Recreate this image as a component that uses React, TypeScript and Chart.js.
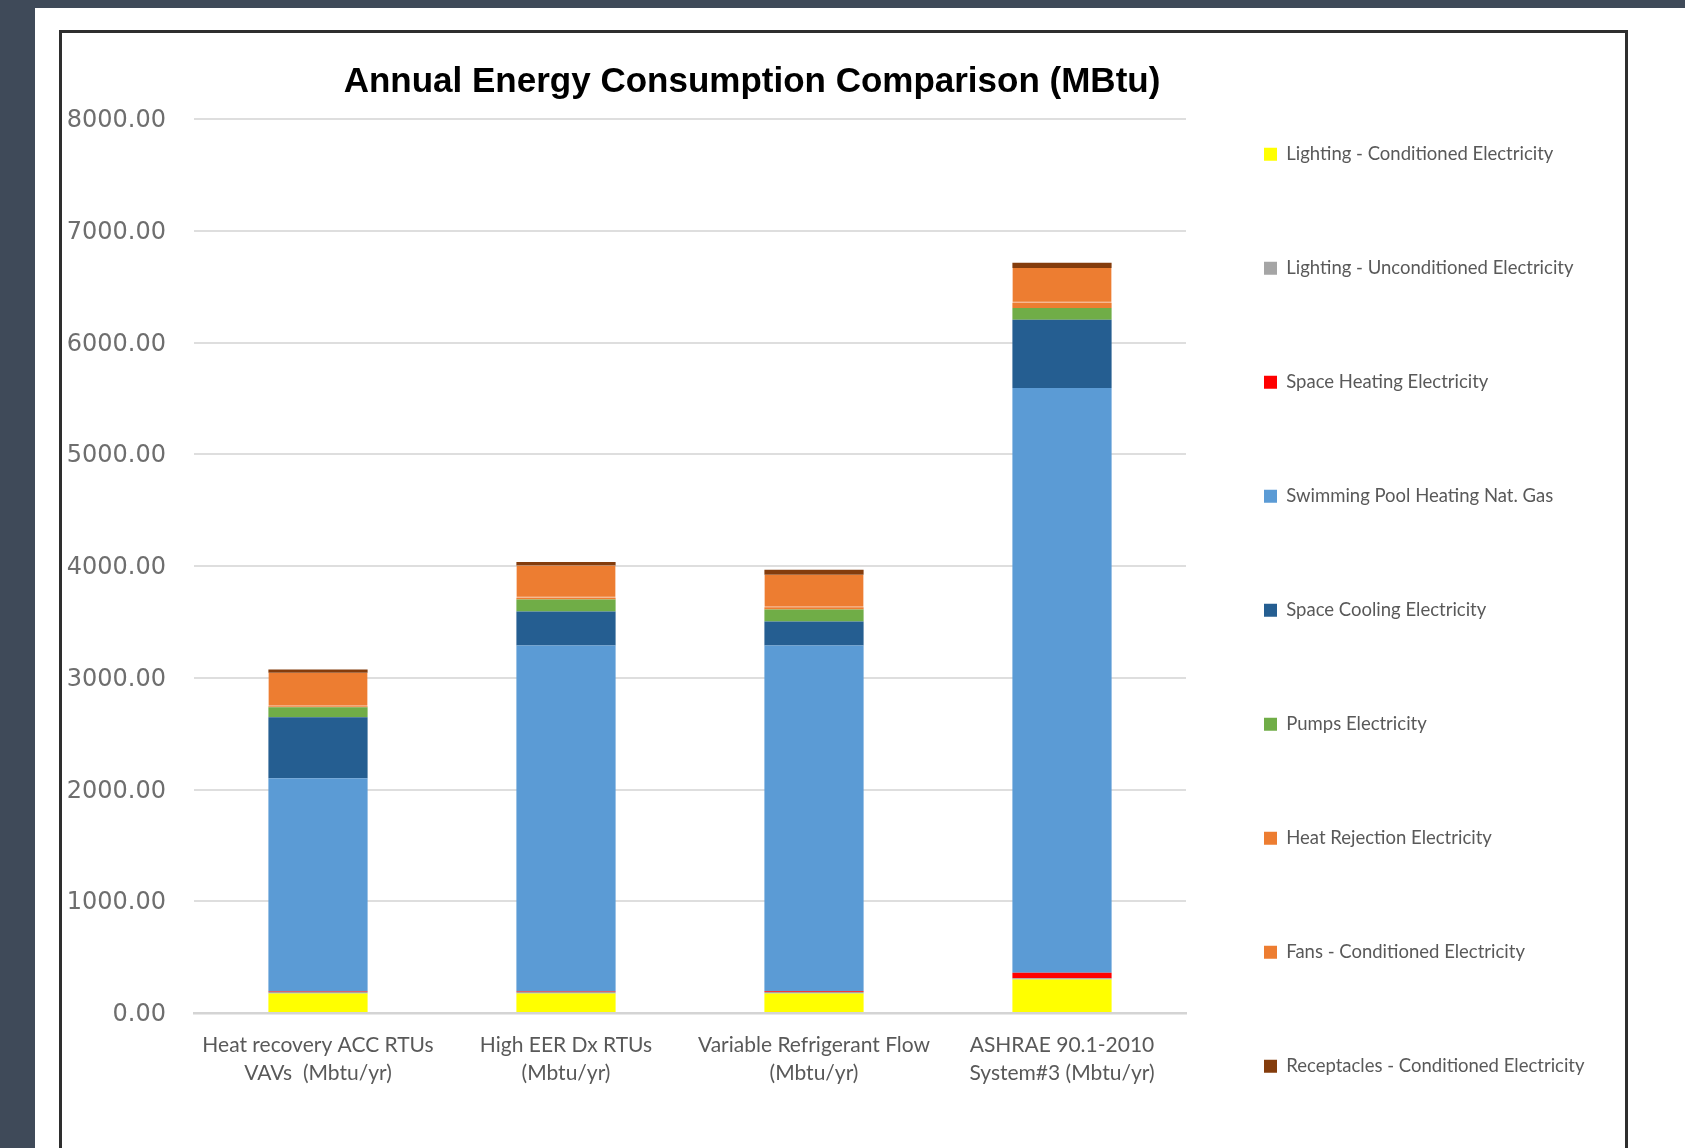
import React, { useEffect, useRef } from 'react';
import { Chart, registerables } from 'chart.js';

Chart.register(...registerables);

// ---- data ----
const categories: string[][] = [
  ['Heat recovery ACC RTUs', 'VAVs  (Mbtu/yr)'],
  ['High EER Dx RTUs', '(Mbtu/yr)'],
  ['Variable Refrigerant Flow', '(Mbtu/yr)'],
  ['ASHRAE 90.1-2010', 'System#3 (Mbtu/yr)'],
];

const seriesNames = [
  'Lighting - Conditioned Electricity',
  'Lighting - Unconditioned Electricity',
  'Space Heating Electricity',
  'Swimming Pool Heating Nat. Gas',
  'Space Cooling Electricity',
  'Pumps Electricity',
  'Heat Rejection Electricity',
  'Fans - Conditioned Electricity',
  'Receptacles - Conditioned Electricity',
];

const lightingConditioned = [175, 175, 175, 300];
const lightingUnconditioned = [12, 12, 12, 10];
const spaceHeating = [5, 5, 8, 50];
const poolHeating = [1908, 3096, 3093, 5232];
const spaceCooling = [546, 305, 215, 612];
const pumps = [90, 107, 108, 104];
const heatRejection = [10, 15, 20, 48];
const fans = [298, 290, 290, 310];
const receptacles = [30, 30, 45, 48];

const seriesColors = [
  '#FFFF00',
  '#A5A5A5',
  '#FF0000',
  '#5B9BD5',
  '#255E91',
  '#70AD47',
  '#ED7D31',
  '#ED7D31',
  '#843C0C',
];

const yMin = 0;
const yMax = 8000;
const yStep = 1000;

const titleText = 'Annual Energy Consumption Comparison (MBtu)';

// layout targets (page pixels)
const PLOT_LEFT = 194;
const PLOT_RIGHT = 1186;
const TITLE_CENTER = 752;
const LEGEND_PAD = 78;
const LEGEND_BOX = 13;
const LEGEND_FONT = 18.5;
const LEGEND_FAMILY = 'Lato, "Open Sans", sans-serif';
const PAD_TOP = 67;
const CANVAS_H = 1182;
const PLOT_BOTTOM = 1013;

export default function App() {
  const canvasRef = useRef<HTMLCanvasElement | null>(null);

  useEffect(() => {
    const canvas = canvasRef.current;
    if (!canvas) return;

    // measure legend width so the legend starts exactly at the plot's right edge
    const mctx = document.createElement('canvas').getContext('2d') as CanvasRenderingContext2D;
    mctx.font = `${LEGEND_FONT}px ${LEGEND_FAMILY}`;
    const maxTextW = Math.max(...seriesNames.map((n) => mctx.measureText(n).width));
    const legendW = LEGEND_PAD + LEGEND_BOX + LEGEND_FONT / 2 + maxTextW + 10;
    const legendWClamped = Math.floor(legendW - 3);
    const off = Math.round(PLOT_RIGHT + legendWClamped - 2 * TITLE_CENTER);
    const canvasW = 1685 + off;
    const padRight = canvasW - off - (PLOT_RIGHT + legendWClamped);

    canvas.width = canvasW;
    canvas.height = CANVAS_H;
    canvas.style.width = canvasW + 'px';
    canvas.style.height = CANVAS_H + 'px';
    canvas.style.left = -off + 'px';

    const seriesValues = [
      lightingConditioned,
      lightingUnconditioned,
      spaceHeating,
      poolHeating,
      spaceCooling,
      pumps,
      heatRejection,
      fans,
      receptacles,
    ];
    const datasets = seriesNames.map((name, i) => ({
      label: name,
      data: seriesValues[i],
      backgroundColor: seriesColors[i],
      borderColor: i === 7 ? '#F4A778' : seriesColors[i],
      borderWidth: i === 7 ? { top: 0, left: 0, right: 0, bottom: 1 } : 0,
      borderSkipped: false as const,
      categoryPercentage: 0.8,
      barPercentage: 0.5,
    }));

    const titleSize = 35;
    const titleLH = 0.85;
    const plotTop = 119;

    const chart = new Chart(canvas, {
      type: 'bar',
      data: { labels: categories as any, datasets },
      options: {
        animation: false,
        responsive: false,
        devicePixelRatio: 1,
        layout: { padding: { left: 0, right: padRight, top: PAD_TOP, bottom: 0 } },
        plugins: {
          title: {
            display: true,
            text: titleText,
            color: '#000000',
            font: { family: '"Liberation Sans", Arial, sans-serif', weight: 'bold', size: titleSize, lineHeight: titleLH },
            padding: { top: 0, bottom: plotTop - PAD_TOP - titleSize * titleLH },
          },
          legend: {
            display: true,
            position: 'right',
            align: 'start',
            maxWidth: legendWClamped,
            labels: {
              boxWidth: LEGEND_BOX,
              boxHeight: LEGEND_BOX,
              padding: LEGEND_PAD,
              color: '#595959',
              font: { family: LEGEND_FAMILY, size: LEGEND_FONT, lineHeight: '36px' },
              generateLabels: (ch: any) => {
                const items = (Chart.defaults.plugins.legend.labels as any).generateLabels(ch);
                return items.map((it: any) => ({
                  ...it,
                  text: [it.text],
                  lineWidth: 0,
                  strokeStyle: 'rgba(0,0,0,0)',
                }));
              },
            },
          },
          tooltip: { enabled: false },
        },
        scales: {
          x: {
            stacked: true,
            grid: { display: false, drawTicks: false },
            border: { display: true, color: '#d4d4d4', width: 2.5 },
            ticks: {
              color: '#595959',
              padding: 18,
              autoSkip: false,
              maxRotation: 0,
              font: { family: 'Lato, "Open Sans", sans-serif', size: 21, lineHeight: 1.333 },
            },
            afterFit: (s: any) => {
              s.height = CANVAS_H - PLOT_BOTTOM;
            },
          },
          y: {
            stacked: true,
            min: yMin,
            max: yMax,
            grid: { color: '#dedede', lineWidth: 2, drawTicks: false },
            border: { display: false },
            ticks: {
              stepSize: yStep,
              padding: 28,
              labelOffset: 2,
              color: '#6e6e6e',
              font: { family: '"DejaVu Sans", Verdana, sans-serif', size: 24 },
              callback: (v: any) => Number(v).toFixed(2),
            },
            afterFit: (s: any) => {
              s.width = PLOT_LEFT + off;
            },
          },
        },
      },
    });
    return () => chart.destroy();
  }, []);

  return (
    <div
      style={{
        position: 'fixed',
        left: 0,
        top: 0,
        width: 1685,
        height: 1148,
        overflow: 'hidden',
        background: '#ffffff',
      }}
    >
      <div style={{ position: 'absolute', left: 0, top: 0, width: 1685, height: 8, background: '#3f4a59' }} />
      <div style={{ position: 'absolute', left: 0, top: 0, width: 35, height: 1148, background: '#3f4a59' }} />
      <div
        style={{
          position: 'absolute',
          left: 59,
          top: 30,
          width: 1569,
          height: 1200,
          boxSizing: 'border-box',
          border: '3px solid #2e2e2e',
        }}
      />
      <canvas
        ref={canvasRef}
        width={1685}
        height={CANVAS_H}
        style={{ position: 'absolute', left: 0, top: 0, display: 'block' }}
      />
    </div>
  );
}
